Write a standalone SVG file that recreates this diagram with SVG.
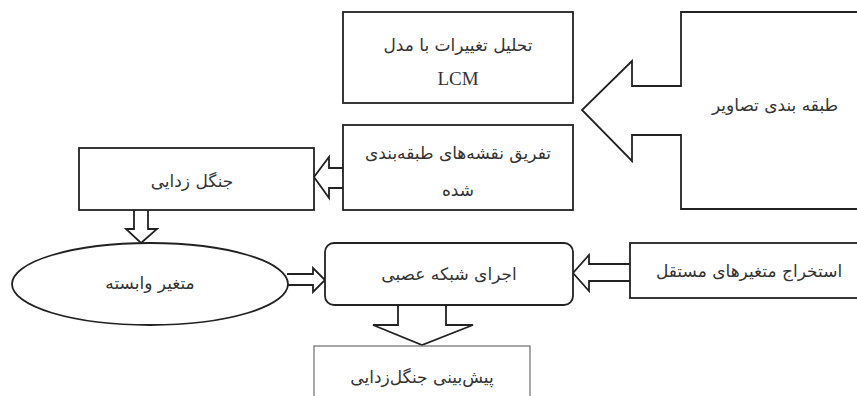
<svg xmlns="http://www.w3.org/2000/svg" width="857" height="396" viewBox="0 0 857 396">
<style>
.box{fill:#fff;stroke:#222;stroke-width:1.8}
.light{fill:#fff;stroke:#777;stroke-width:1.3}
.arr{fill:#fff;stroke:#222;stroke-width:1.8;stroke-linejoin:miter}
.t{font-family:"DejaVu Sans","Noto Sans",sans-serif;font-size:17px;fill:#333;text-anchor:middle;dominant-baseline:central}
.lat{font-family:"Liberation Serif",serif;font-size:19px;fill:#333;text-anchor:middle;dominant-baseline:central}
</style>
<rect width="857" height="396" fill="#fff"/>
<g id="connectors">
<path class="arr" d="M343,168 L329,168 L329,157 L314,177 L329,198 L329,188 L343,188"/>
<path class="arr" d="M134,210 L134,229 L126,229 L141,243 L157,229 L148,229 L148,210"/>
<path class="arr" d="M287,274 L313,274 L313,268 L325,280 L313,292 L313,285 L287,285"/>
<path class="arr" d="M630,264 L589,264 L589,255 L573,273 L589,291 L589,281 L630,281"/>
<path class="arr" d="M398,305 L398,325 L373,325 L422,345 L473,325 L446,325 L446,305"/>
</g>
<g id="classify">
<path class="arr" d="M860,12 L681,12 L681,86 L632,86 L632,61 L582,110 L632,161 L632,135 L681,135 L681,209 L860,209"/>
<text class="t" x="775" y="105">طبقه بندی تصاویر</text>
</g>
<g id="lcm">
<rect class="box" x="343" y="12" width="230" height="91"/>
<text class="t" x="458" y="45">تحلیل تغییرات با مدل</text>
<text class="lat" x="458" y="78">LCM</text>
</g>
<g id="subtract">
<rect class="box" x="343" y="125" width="230" height="85"/>
<text class="t" x="458" y="153">تفریق نقشه‌های طبقه‌بندی</text>
<text class="t" x="458" y="190">شده</text>
</g>
<g id="deforest">
<rect class="box" x="79" y="148" width="235" height="62"/>
<text class="t" x="192" y="181">جنگل زدایی</text>
</g>
<g id="dependent">
<ellipse class="box" cx="150" cy="284" rx="138" ry="41"/>
<text class="t" x="150" y="283">متغیر وابسته</text>
</g>
<g id="ann">
<rect class="box" x="325" y="243" width="248" height="62" rx="9"/>
<text class="t" x="449" y="274">اجرای شبکه عصبی</text>
</g>
<g id="independent">
<rect class="box" x="630" y="243" width="240" height="55"/>
<text class="t" x="749" y="271">استخراج متغیرهای مستقل</text>
</g>
<g id="prediction">
<rect class="light" x="314" y="346" width="216" height="60"/>
<text class="t" x="422" y="377">پیش‌بینی جنگل‌زدایی</text>
</g>
</svg>
